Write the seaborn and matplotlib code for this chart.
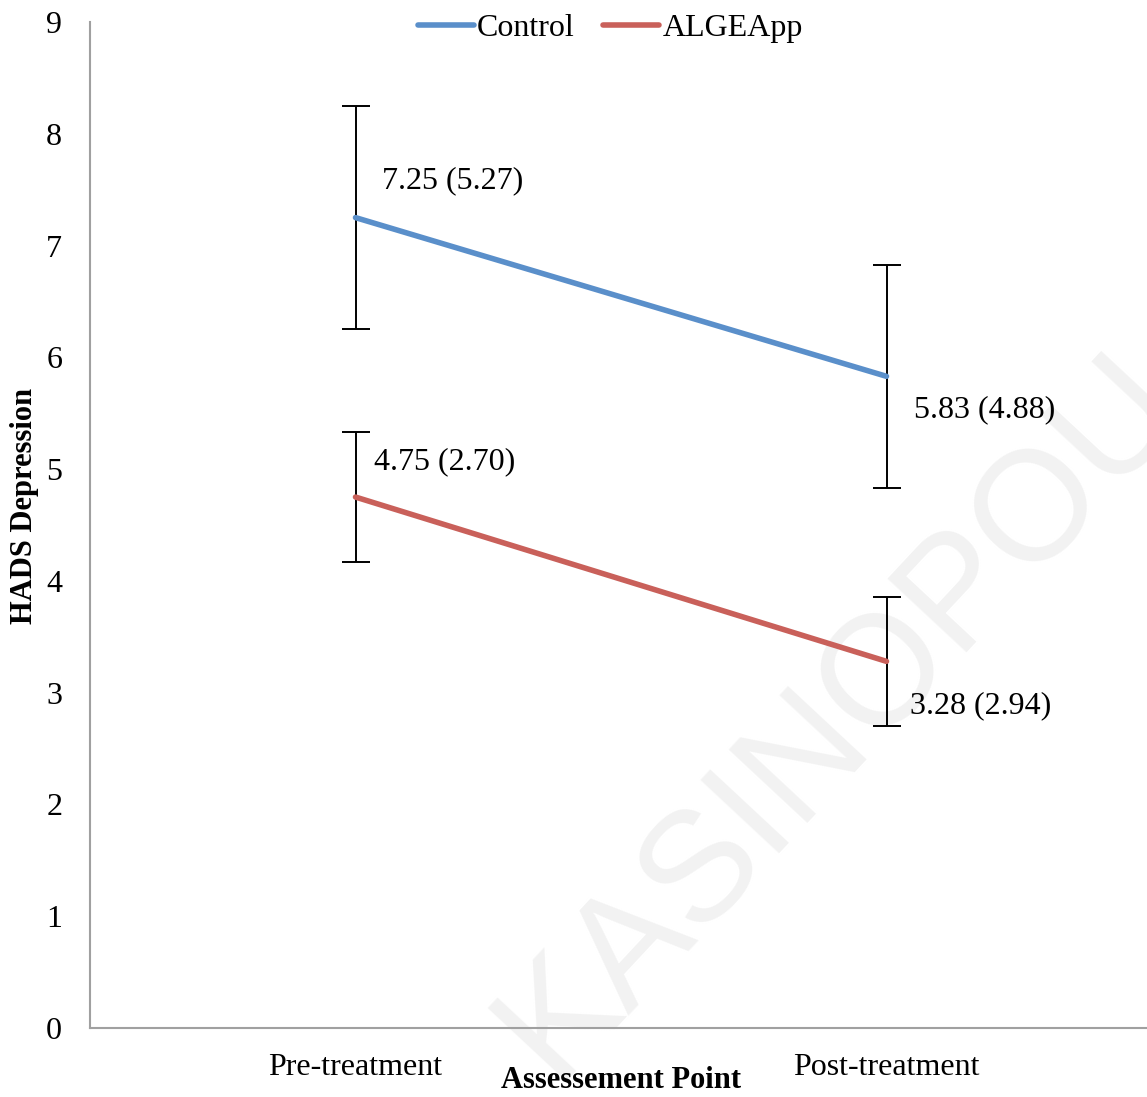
import matplotlib
matplotlib.use("Agg")
import matplotlib.pyplot as plt
import seaborn as sns
import pandas as pd

# Assessment points and group summaries (mean, SD and error-bar half-width)
timepoints = ["Pre-treatment", "Post-treatment"]
groups = ["Control", "ALGEApp"]
control_mean = [7.25, 5.83]
control_sd = [5.27, 4.88]
control_err = [1.00, 1.00]
algeapp_mean = [4.75, 3.28]
algeapp_sd = [2.70, 2.94]
algeapp_err = [0.58, 0.58]
y_ticks = list(range(0, 10))

colors = {"Control": "#5A8FCA", "ALGEApp": "#C9605A"}

rows = []
for g, means, sds, errs in [("Control", control_mean, control_sd, control_err),
                            ("ALGEApp", algeapp_mean, algeapp_sd, algeapp_err)]:
    for i, t in enumerate(timepoints):
        rows.append({"group": g, "timepoint": t, "pos": i,
                     "mean": means[i], "sd": sds[i], "err": errs[i]})
df = pd.DataFrame(rows)

sns.set_theme(style="white")
plt.rcParams["font.family"] = ["Liberation Serif", "DejaVu Serif"]
plt.rcParams["text.color"] = "black"
plt.rcParams["axes.labelcolor"] = "black"
plt.rcParams["xtick.color"] = "black"
plt.rcParams["ytick.color"] = "black"

fig = plt.figure(figsize=(11.47, 10.97), dpi=100)
ax = fig.add_axes([90 / 1147, 69 / 1097, 1062 / 1147, 1006 / 1097])
ax.set_facecolor("none")

# faint diagonal watermark behind the plot
fig.text(840 / 1147, 1 - 716 / 1097, "KASINOPOU", family="Liberation Sans",
         fontsize=112, color="#f2f2f2", rotation=47, rotation_mode="anchor",
         ha="center", va="center", zorder=-5)

sns.lineplot(data=df, x="pos", y="mean", hue="group", hue_order=groups,
             palette=colors, linewidth=4.0, solid_capstyle="round",
             ax=ax, zorder=3, legend=True)

for g in groups:
    sub = df[df["group"] == g]
    ax.errorbar(sub["pos"], sub["mean"], yerr=sub["err"], fmt="none",
                ecolor="black", elinewidth=1.4, capsize=10, capthick=1.4,
                zorder=2)

# value labels: mean (SD)
offsets = {("Control", 0): (26, 37), ("Control", 1): (27, -33),
           ("ALGEApp", 0): (19, 35), ("ALGEApp", 1): (24, -44)}
for _, r in df.iterrows():
    ax.annotate(f"{r['mean']:.2f} ({r['sd']:.2f})", xy=(r["pos"], r["mean"]),
                xytext=offsets[(r["group"], r["pos"])], textcoords="offset pixels",
                ha="left", va="center", fontsize=23, color="black")

ax.set_xlim(-0.5, 1.5)
ax.set_ylim(0, 9)
ax.set_xticks(range(len(timepoints)), timepoints)
ax.set_yticks(y_ticks)
ax.tick_params(axis="both", length=0, labelsize=23, colors="black")
ax.tick_params(axis="x", pad=18)
ax.tick_params(axis="y", pad=20)

for side in ["top", "right"]:
    ax.spines[side].set_visible(False)
for side in ["left", "bottom"]:
    ax.spines[side].set_color("#a0a0a0")
    ax.spines[side].set_linewidth(1.5)

ax.set_xlabel("Assessement Point", fontsize=22, fontweight="bold", color="black")
ax.set_ylabel("HADS Depression", fontsize=22, fontweight="bold", color="black")
ax.xaxis.set_label_coords(0.5, -0.0517)
ax.xaxis.label.set_va("center")
ax.yaxis.set_label_coords(-0.062, 0.519)
ax.yaxis.label.set_va("center")

leg = ax.legend(loc="center", bbox_to_anchor=(0.49, 0.994), ncol=2,
                frameon=False, fontsize=23, handlelength=1.75,
                handletextpad=0.1, columnspacing=0.9, borderpad=0)
for t in leg.get_texts():
    t.set_color("black")
for h in leg.get_lines():
    h.set_linewidth(4.0)
    h.set_solid_capstyle("round")

fig.savefig("out.png", dpi=100)
